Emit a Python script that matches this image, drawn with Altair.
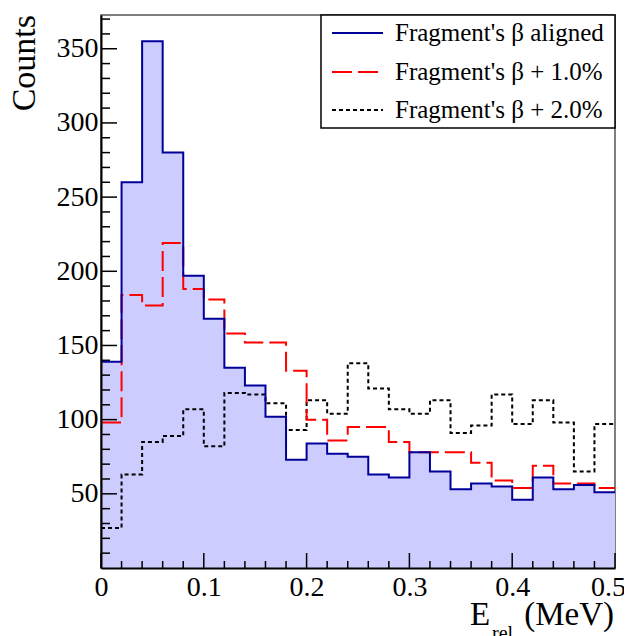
import altair as alt
import pandas as pd

# ---------------- data ----------------
BIN_LOW = [0.00, 0.02, 0.04, 0.06, 0.08, 0.10, 0.12, 0.14, 0.16, 0.18,
           0.20, 0.22, 0.24, 0.26, 0.28, 0.30, 0.32, 0.34, 0.36, 0.38,
           0.40, 0.42, 0.44, 0.46, 0.48]
X_MAX = 0.5
ALIGNED = [139, 260, 355, 280, 197, 168, 135, 123, 102, 73,
           84, 77, 75, 63, 61, 78, 65, 53, 57, 55,
           46, 61, 53, 56, 51]
PLUS1 = [98, 184, 177, 219, 188, 181, 158, 152, 152, 133,
         100, 86, 95, 95, 85, 78, 78, 78, 71, 59,
         54, 69, 57, 57, 54]
PLUS2 = [27, 63, 85, 89, 107, 82, 118, 117, 111, 93,
         113, 104, 138, 121, 107, 104, 113, 91, 96, 117,
         97, 113, 98, 65, 97]
LABELS = ["Fragment's \u03b2 aligned", "Fragment's \u03b2 + 1.0%", "Fragment's \u03b2 + 2.0%"]
X_MAJOR = [0, 0.1, 0.2, 0.3, 0.4, 0.5]
X_MINOR = [0.02, 0.04, 0.06, 0.08, 0.12, 0.14, 0.16, 0.18, 0.22, 0.24, 0.26, 0.28,
           0.32, 0.34, 0.36, 0.38, 0.42, 0.44, 0.46, 0.48]
Y_MAJOR = [50, 100, 150, 200, 250, 300, 350]
Y_MINOR = [10, 20, 30, 40, 60, 70, 80, 90, 110, 120, 130, 140, 160, 170, 180, 190,
           210, 220, 230, 240, 260, 270, 280, 290, 310, 320, 330, 340, 360, 370]
Y_MAX = 372.75

W, H = 514, 553
FONT = "Liberation Serif"

xs = alt.Scale(domain=[0, X_MAX], nice=False, zero=False)
ys = alt.Scale(domain=[0, Y_MAX], nice=False)


def step_df(vals):
    return pd.DataFrame({"x": BIN_LOW + [X_MAX], "y": vals + [vals[-1]]})


xaxis = alt.Axis(values=X_MAJOR, format="~g", ticks=False, grid=False, title=None,
                 labelFont=FONT, labelFontSize=28, labelPadding=5, labelColor="black",
                 labelOffset=alt.expr("datum.value == 0.5 ? -7 : 0"),
                 domainColor="black", domainWidth=2, zindex=1, labelFlush=False,
                 labelOverlap=False)
yaxis = alt.Axis(values=Y_MAJOR, ticks=False, grid=False, title=None,
                 labelFont=FONT, labelFontSize=28, labelPadding=3, labelColor="black",
                 domainColor="black", domainWidth=2, zindex=1, labelOverlap=False)

area = alt.Chart(step_df(ALIGNED)).mark_area(
    interpolate="step-after", color="#ccccff", opacity=1
).encode(x=alt.X("x:Q", scale=xs, axis=xaxis), y=alt.Y("y:Q", scale=ys, axis=yaxis))


def line(vals, color, dash, width):
    kw = dict(interpolate="step-after", color=color, strokeWidth=width)
    if dash:
        kw["strokeDash"] = dash
    return alt.Chart(step_df(vals)).mark_line(**kw).encode(
        x=alt.X("x:Q", scale=xs), y=alt.Y("y:Q", scale=ys))


l2 = line(PLUS2, "black", [4, 3], 2)
l1 = line(PLUS1, "#ff0000", [20, 6], 2)
l0 = line(ALIGNED, "#000099", None, 2)

# inward ticks
ytk_major = alt.Chart(pd.DataFrame({"v": Y_MAJOR})).mark_rule(color="black", strokeWidth=1.5).encode(
    y=alt.Y("v:Q", scale=ys), x=alt.value(0), x2=alt.value(16))
ytk_minor = alt.Chart(pd.DataFrame({"v": Y_MINOR})).mark_rule(color="black", strokeWidth=1.5).encode(
    y=alt.Y("v:Q", scale=ys), x=alt.value(0), x2=alt.value(9))
xtk_major = alt.Chart(pd.DataFrame({"v": X_MAJOR})).mark_rule(color="black", strokeWidth=1.5).encode(
    x=alt.X("v:Q", scale=xs), y=alt.value(H), y2=alt.value(H - 15))
xtk_minor = alt.Chart(pd.DataFrame({"v": X_MINOR})).mark_rule(color="black", strokeWidth=1.5).encode(
    x=alt.X("v:Q", scale=xs), y=alt.value(H), y2=alt.value(H - 7))


def text(t, x, y, size, align="left", baseline="alphabetic", angle=0):
    kw = dict(font=FONT, fontSize=size, align=align, baseline=baseline, color="black")
    if angle:
        kw["angle"] = angle
    return alt.Chart(pd.DataFrame({"t": [t]})).mark_text(**kw).encode(
        text="t:N", x=alt.value(x), y=alt.value(y))


# titles
t_counts = text("Counts", -66, 0, 34, align="right", baseline="alphabetic", angle=270)
t_E = text("E", 369, 610, 33)
t_rel = text("rel", 391, 625, 20)
t_mev = text("(MeV)", 513, 610, 33, align="right")

# legend
box = alt.Chart(pd.DataFrame({"a": [0]})).mark_rect(
    fill="white", stroke="black", strokeWidth=1.5
).encode(x=alt.value(220), x2=alt.value(514), y=alt.value(0), y2=alt.value(113))

leg_rows = [18, 57, 95]
styles = [("#000099", None), ("#ff0000", [20, 6]), ("black", [4, 3])]
leg = []
for lab, yy, (c, d) in zip(LABELS, leg_rows, styles):
    kw = dict(color=c, strokeWidth=2)
    if d:
        kw["strokeDash"] = d
    leg.append(alt.Chart(pd.DataFrame({"a": [0]})).mark_rule(**kw).encode(
        x=alt.value(231), x2=alt.value(282), y=alt.value(yy)))
    leg.append(text(lab, 294, yy, 25, baseline="middle"))

chart = alt.layer(
    area, ytk_major, ytk_minor, xtk_major, xtk_minor, l2, l1, l0,
    t_counts, t_E, t_rel, t_mev, box, *leg
).properties(
    width=W, height=H,
    autosize=alt.AutoSizeParams(type="none"),
    padding={"left": 93, "top": 7, "right": 9, "bottom": 68},
).configure_view(stroke="#555555", strokeWidth=1.5)

chart.save("out.html", embed_options={"renderer": "svg", "actions": False})
